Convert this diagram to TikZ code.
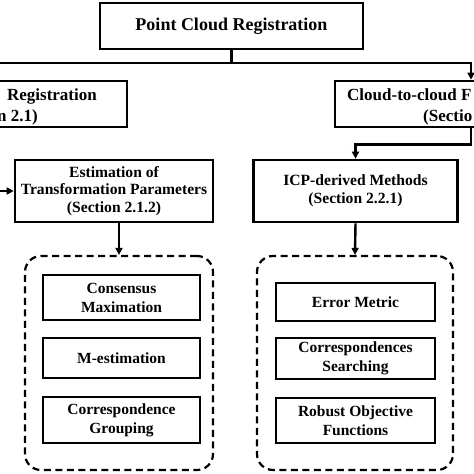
\documentclass[tikz,border=0pt]{standalone}
\usepackage{fontspec}
\setmainfont{Liberation Serif}
\usetikzlibrary{arrows.meta}
\begin{document}
\begin{tikzpicture}[x=1pt,y=-1pt,
  box/.style={draw, line width=2.6pt, inner sep=0pt, align=center},
  ftop/.style={font=\fontsize{18}{21}\selectfont\bfseries},
  ftwo/.style={font=\fontsize{17}{20}\selectfont\bfseries},
  fthree/.style={font=\fontsize{15.6}{17.8}\selectfont\bfseries},
  finner/.style={font=\fontsize{15.5}{19}\selectfont\bfseries},
  conn/.style={line width=2.4pt},
  arr/.style={conn, -{Triangle[length=7pt,width=7pt]}},
  dbox/.style={draw, line width=2.2pt, dash pattern=on 7pt off 4.5pt, rounded corners=16pt, inner sep=0pt}
]
\useasboundingbox (0,0) rectangle (474,474);
\fill[white] (0,0) rectangle (474,474);

% top
\node[box, ftop, minimum width=263pt, minimum height=46pt] (top) at (231.5,26) {Point Cloud Registration};

% second level
\node[box, minimum width=270pt, minimum height=46pt] (lb) at (-8,104) {};
\node[ftwo, anchor=base east, inner sep=0pt] (lbt1) at (97,100) {Registration};
\node[ftwo, anchor=base east, inner sep=0pt] (lbt2) at (38,121) {n 2.1)};

\node[box, minimum width=272pt, minimum height=46pt] (rb) at (471,104) {};
\node[ftwo, anchor=base west, inner sep=0pt] (rbt1) at (347,100) {Cloud-to-cloud F};
\node[ftwo, anchor=base west, inner sep=0pt] (rbt2) at (423,121) {(Sectio};

% third level
\node[box, fthree, minimum width=198pt, minimum height=62pt] (est) at (114,191) {Estimation of\\Transformation Parameters\\(Section 2.1.2)};
\node[box, fthree, minimum width=204pt, minimum height=62pt] (icp) at (355.5,191) {ICP-derived Methods\\(Section 2.2.1)};

% dashed groups
\node[dbox, minimum width=188pt, minimum height=214pt] (dl) at (119,363) {};
\node[dbox, minimum width=196pt, minimum height=214pt] (dr) at (355,363) {};

% inner boxes left
\node[box, finner, minimum width=157pt, minimum height=45pt] (cm) at (121.5,297.5) {Consensus\\Maximation};
\node[box, finner, minimum width=157pt, minimum height=40pt] (me) at (121.5,358) {M-estimation};
\node[box, finner, minimum width=157pt, minimum height=46pt] (cg) at (121.5,420) {Correspondence\\Grouping};

% inner boxes right
\node[box, finner, minimum width=159pt, minimum height=38pt] (em) at (355.5,302) {Error Metric};
\node[box, finner, minimum width=159pt, minimum height=41pt] (cs) at (355.5,358.5) {Correspondences\\Searching};
\node[box, finner, minimum width=159pt, minimum height=45pt] (ro) at (355.5,420.5) {Robust Objective\\Functions};

% connectors
\coordinate (j) at (231.5,63);
\draw[conn] (top.south) -- (j);
\draw[arr] (j) -| (rb.north);
\draw[arr] (j) -| (lb.north);
\draw[arr] (rb.south) -- ++(0,16) -| (icp.north);
\draw[arr] (lb.south) |- (est.west);
\draw[arr] (est.south -| dl.north) -- (dl.north);
\draw[arr] (icp.south) -- (dr.north);
\end{tikzpicture}
\end{document}
